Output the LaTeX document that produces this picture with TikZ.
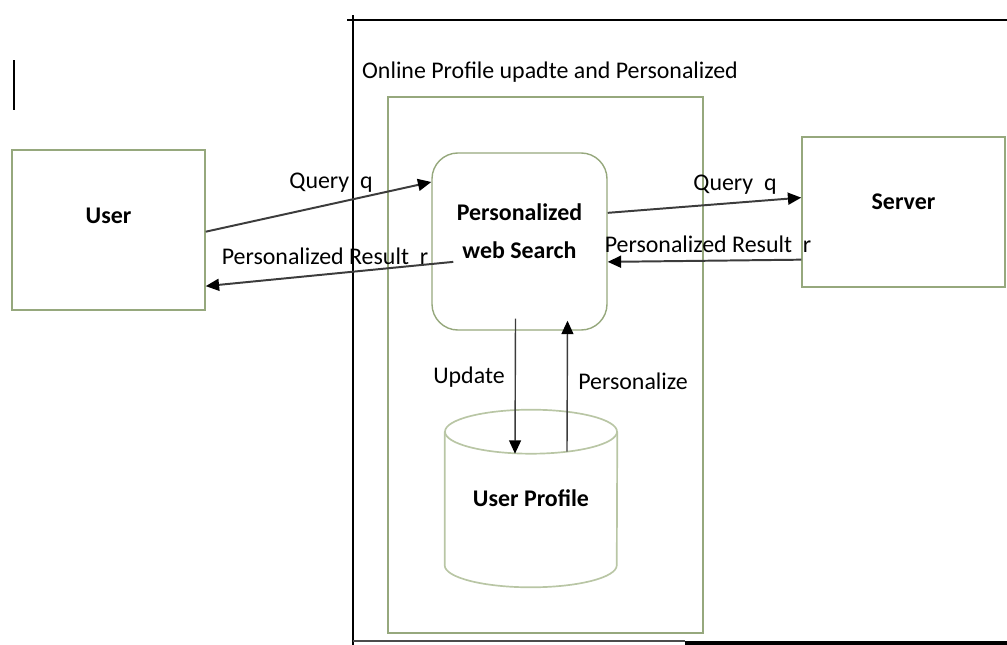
\documentclass[tikz,border=0pt]{standalone}
\usepackage{fontspec}
\setmainfont{Carlito}
\usetikzlibrary{positioning,calc,arrows.meta}

\definecolor{boxgreen}{RGB}{150,168,125}
\definecolor{cylgreen}{RGB}{185,198,165}
\definecolor{arrgray}{RGB}{60,60,60}

\tikzset{
  box/.style={draw=boxgreen, line width=1pt},
  lbl/.style={font=\fontsize{17}{20}\selectfont, inner sep=0pt},
  lblb/.style={font=\fontsize{17}{20}\selectfont\bfseries, inner sep=0pt},
  arr/.style={draw=arrgray, line width=1.4pt, -{Triangle[length=9.5pt,width=8.5pt,color=black]}},
  varr/.style={arr, line width=1pt},
  cyl/.style={draw=cylgreen, line width=1.2pt}
}

\begin{document}
\begin{tikzpicture}[x=0.025cm,y=-0.025cm]
\useasboundingbox (0,0) rectangle (1007,645);
% outer frame
\draw[line width=2pt] (347,20) -- (1007,20);
\draw[line width=1.2pt] (353,15) -- (353,645);
\draw[line width=1pt, black!70] (353,641) -- (685,641);
\draw[line width=2.2pt] (685,643) -- (1007,643);
\draw[line width=1.2pt] (14,60) -- (14,110);

% online part
\draw[box, line width=0.8pt] (388,97) rectangle (703,633);
\node[lbl] (title) at (550,72) {Online Profile upadte and Personalized};

\node[box, minimum width=4.825cm, minimum height=4cm,
  label={[lblb, yshift=10pt]center:User}] (user) at (108.5,230) {};
\node[box, minimum width=5.075cm, minimum height=3.75cm,
  label={[lblb, yshift=7pt]center:Server}] (server) at (903.5,212) {};
\node[box, rounded corners=0.65cm, minimum width=4.375cm, minimum height=4.425cm,
  label={[lblb, align=center, font=\fontsize{17}{27}\selectfont\bfseries, yshift=7pt]center:Personalized\\web Search}] (pws) at (519.5,241.5) {};

% user profile store
\node[minimum width=4.3cm, minimum height=4.425cm, lblb] (profile) at (531,498.5) {User Profile};
\draw[cyl] ($(profile.north)+(0,22)$) ellipse [x radius=2.15cm, y radius=0.55cm];
\draw[cyl] ($(profile.north west)+(0,22)$) -- ($(profile.south west)+(0,-22)$)
  arc[start angle=180, end angle=360, x radius=2.15cm, y radius=0.55cm]
  -- ($(profile.north east)+(0,22)$);

% arrows
\draw[arr] (user.-1) -- (pws.146);
\draw[arr] ($(pws.-167)+(22,0)$) -- (user.-30);
\draw[arr] (pws.18) -- (server.172);
\draw[arr] (server.-155) -- (pws.-13);
\draw[varr] ($(pws.south)+(-4,-12)$) -- ($(profile.north)+(-16,44)$);
\draw[varr] ($(profile.north)+(36,42)$) -- ($(pws.south)+(48,-10)$);

\node[lbl] (q1) at (331,183) {Query\ \ q};
\node[lbl] (r1) at (325,256) {Personalized Result\ \ r};
\node[lbl] (q2) at (735,185) {Query\ \ q};
\node[lbl] (r2) at (708,244) {Personalized Result\ \ r};
\node[lbl] (upd) at (469,377) {Update};
\node[lbl] (pers) at (633,381) {Personalize};
\end{tikzpicture}
\end{document}
